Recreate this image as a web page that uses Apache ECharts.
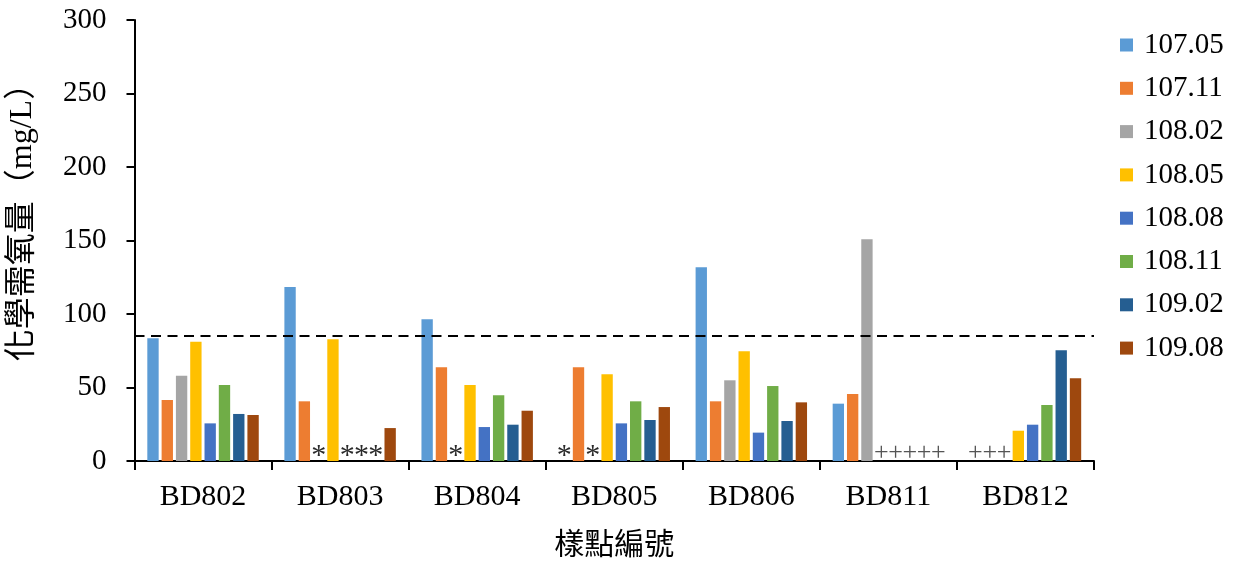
<!DOCTYPE html>
<html>
<head>
<meta charset="utf-8">
<script src="https://cdn.jsdelivr.net/npm/echarts@6/dist/echarts.min.js"></script>
<style>
  html, body { margin: 0; padding: 0; background: #fff; }
  #chart { width: 1235px; height: 563px; }
</style>
</head>
<body>
<div id="chart"></div>
<script>
// Sampling stations along the x axis
const categories = ['BD802', 'BD803', 'BD804', 'BD805', 'BD806', 'BD811', 'BD812'];

// COD (mg/L) per sampling campaign; '*' and '+' are note marks drawn at the baseline
const s10705 = [83.5, 118.4, 96.4, '*', 131.8, 39.0, '+'];
const s10711 = [41.5, 40.6, 63.7, 63.7, 40.6, 45.6, '+'];
const s10802 = [58.0, '*', '*', '*', 54.9, 150.8, '+'];
const s10805 = [81.2, 82.8, 51.7, 59.0, 74.6, '+', 20.6];
const s10808 = [25.6, '*', 23.1, 25.6, 19.3, '+', 24.7];
const s10811 = [51.7, '*', 44.7, 40.6, 51.0, '+', 38.1];
const s10902 = [32.0, '*', 24.7, 27.9, 27.2, '+', 75.3];
const s10908 = [31.3, 22.4, 34.2, 36.7, 39.9, '+', 56.3];

const seriesNames = ['107.05', '107.11', '108.02', '108.05', '108.08', '108.11', '109.02', '109.08'];
const seriesValues = [s10705, s10711, s10802, s10805, s10808, s10811, s10902, s10908];
const seriesColors = ['#5B9BD5', '#ED7D31', '#A5A5A5', '#FFC000', '#4472C4', '#70AD47', '#255E91', '#9E480E'];

// Reference standard drawn as a dashed line
const limitValue = 85;

// y axis ticks
const yMin = 0, yMax = 300, yStep = 50;

const serif = '"Liberation Serif", "Times New Roman", "Noto Sans CJK TC", serif';
const cjk = '"Liberation Serif", "Noto Sans CJK TC", sans-serif';

function markLabel(mark) {
  const isStar = mark === '*';
  return {
    show: true,
    position: 'insideBottom',
    distance: 0,
    formatter: mark,
    fontFamily: serif,
    fontSize: isStar ? 30 : 26,
    color: isStar ? '#2a2a2a' : '#555',
    offset: isStar ? [0, 10] : [0, 5]
  };
}

const series = seriesNames.map((name, i) => {
  const s = {
    name: name,
    type: 'bar',
    barCategoryGap: '18.7%',
    barGap: '26%',
    itemStyle: { color: seriesColors[i] },
    data: seriesValues[i].map(v =>
      typeof v === 'string' ? { value: 0, label: markLabel(v) } : v
    )
  };
  if (i === 0) {
    s.markLine = {
      silent: true,
      symbol: 'none',
      label: { show: false },
      lineStyle: { color: '#000', type: [10, 6.5], width: 2 },
      data: [{ yAxis: limitValue }]
    };
  }
  return s;
});

const chart = echarts.init(document.getElementById('chart'), null, { renderer: 'canvas' });
chart.setOption({
  animation: false,
  backgroundColor: '#fff',
  grid: { left: 134.5, right: 141, top: 20, bottom: 102, containLabel: false, outerBoundsMode: 'none' },
  legend: {
    orient: 'vertical',
    left: 1120,
    top: 30,
    padding: 0,
    icon: 'rect',
    itemWidth: 13,
    itemHeight: 13,
    itemGap: 13.3,
    data: seriesNames,
    textStyle: {
      fontFamily: serif,
      fontSize: 29,
      lineHeight: 30,
      color: '#000',
      padding: [0, 0, 0, 6]
    }
  },
  xAxis: {
    type: 'category',
    data: categories,
    name: '樣點編號',
    nameLocation: 'middle',
    nameGap: 70,
    nameTextStyle: { fontFamily: cjk, fontSize: 30, color: '#000' },
    axisLine: { lineStyle: { color: '#000', width: 2 } },
    axisTick: { show: true, length: 9, lineStyle: { color: '#000', width: 2 } },
    axisLabel: { fontFamily: serif, fontSize: 30, color: '#000', margin: 21 },
    splitLine: { show: false }
  },
  yAxis: {
    type: 'value',
    min: yMin,
    max: yMax,
    interval: yStep,
    name: '化學需氧量（mg/L）',
    nameLocation: 'middle',
    nameRotate: 90,
    nameGap: 96,
    nameTextStyle: { fontFamily: cjk, fontSize: 32, color: '#000', padding: [0, 0, 0, 52] },
    axisLine: { show: true, lineStyle: { color: '#000', width: 2 } },
    axisTick: { show: true, length: 8, lineStyle: { color: '#000', width: 2 } },
    axisLabel: { fontFamily: serif, fontSize: 29, color: '#000', margin: 28 },
    splitLine: { show: false }
  },
  series: series
});
</script>
</body>
</html>
